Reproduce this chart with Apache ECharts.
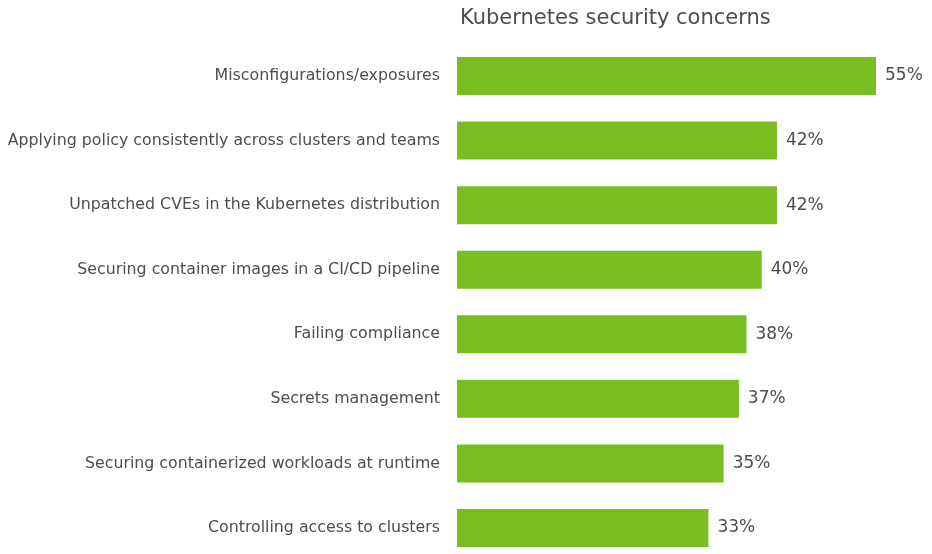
<!DOCTYPE html>
<html><head><meta charset="utf-8">
<script src="https://cdn.jsdelivr.net/npm/echarts@6/dist/echarts.min.js"></script>
<style>html,body{margin:0;padding:0;background:#fff}#c{width:932px;height:554px}</style>
</head><body><div id="c"></div>
<script>
var categories = [
  "Misconfigurations/exposures",
  "Applying policy consistently across clusters and teams",
  "Unpatched CVEs in the Kubernetes distribution",
  "Securing container images in a CI/CD pipeline",
  "Failing compliance",
  "Secrets management",
  "Securing containerized workloads at runtime",
  "Controlling access to clusters"
];
var values = [55, 42, 42, 40, 38, 37, 35, 33];
var titleText = "Kubernetes security concerns";

var chart = echarts.init(document.getElementById('c'), null, {renderer: 'canvas'});
chart.setOption({
  animation: false,
  backgroundColor: '#ffffff',
  title: {
    text: titleText, left: 455, top: 3,
    textStyle: {fontFamily: 'DejaVu Sans', fontSize: 21, fontWeight: 'normal', color: '#4d4d4d'}
  },
  grid: {left: 457, right: 56, top: 76, height: 452, containLabel: false},
  xAxis: {type: 'value', min: 0, max: 55, show: false},
  yAxis: {
    type: 'category', inverse: true, data: categories, boundaryGap: false,
    axisLine: {show: false}, axisTick: {show: false}, splitLine: {show: false},
    axisLabel: {margin: 17, fontFamily: 'DejaVu Sans', fontSize: 15.8, color: '#4d4d4d'}
  },
  series: [{
    type: 'bar', data: values, barWidth: 38,
    itemStyle: {color: '#78be20'},
    label: {show: true, position: 'right', distance: 9, formatter: '{c}%',
      fontFamily: 'DejaVu Sans', fontSize: 17, color: '#4d4d4d'}
  }]
});
</script></body></html>
